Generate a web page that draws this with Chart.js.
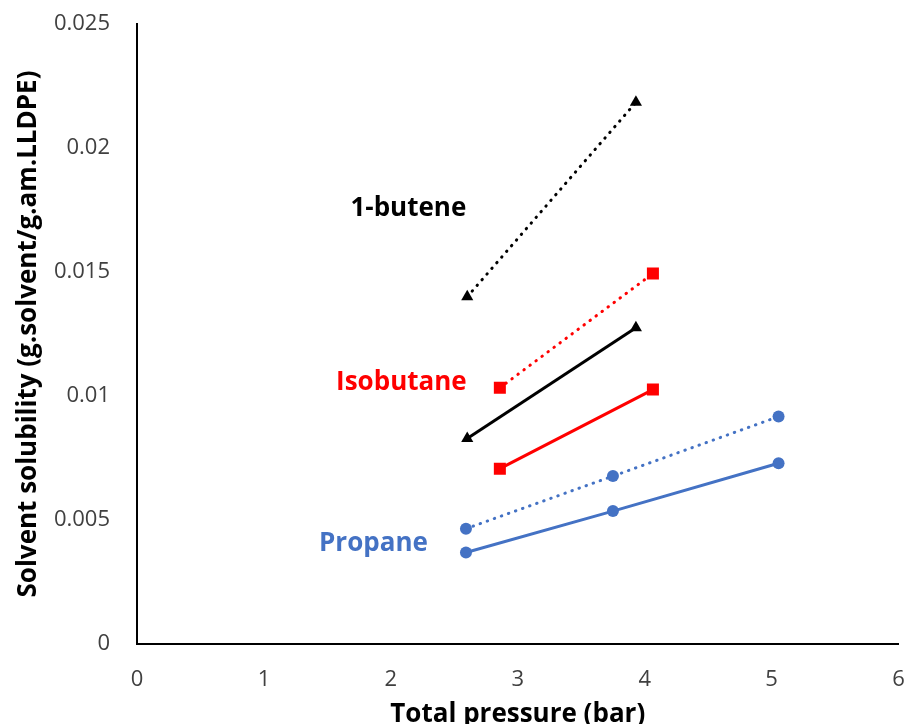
<!DOCTYPE html>
<html>
<head>
<meta charset="utf-8">
<script src="https://cdn.jsdelivr.net/npm/chart.js@4/dist/chart.umd.min.js"></script>
<style>
  html, body { margin: 0; padding: 0; background: #fff; }
  #wrap { width: 907px; height: 724px; }
</style>
</head>
<body>
<div id="wrap"><canvas id="c"></canvas></div>
<script>
// values
const propaneX = [2.592, 3.75, 5.055];
const propaneSolid = [0.00369, 0.00536, 0.00729];
const propaneDotted = [0.00465, 0.00677, 0.00917];

const isobutaneX = [2.859, 4.065];
const isobutaneSolid = [0.00707, 0.01026];
const isobutaneDotted = [0.01033, 0.01494];

const buteneX = [2.602, 3.931];
const buteneSolid = [0.00829, 0.01275];
const buteneDotted = [0.0140, 0.02184];

// text labels placed in data units
const labelNames = ['1-butene', 'Isobutane', 'Propane'];
const labelX = [2.138, 2.083, 1.863];
const labelY = [0.01754, 0.01054, 0.00406];
const labelColors = ['#000000', '#ff0000', '#4472c4'];

const pts = (xs, ys) => xs.map((x, i) => ({ x: x, y: ys[i] }));

function series(name, xs, ys, color, marker, dotted) {
  let r = 6;
  if (marker === 'rect') r = 8.5;
  if (marker === 'triangle') r = 7;
  return {
    label: name,
    data: pts(xs, ys),
    borderColor: color,
    backgroundColor: color,
    borderWidth: 3,
    borderDash: dotted ? [0.5, 7] : [],
    borderCapStyle: dotted ? 'round' : 'butt',
    pointStyle: marker,
    pointRadius: r,
    pointBorderWidth: 0,
    showLine: true,
    tension: 0
  };
}

const labelPlugin = {
  id: 'labels',
  afterDatasetsDraw(chart) {
    const ctx = chart.ctx;
    const xs = chart.scales.x, ys = chart.scales.y;
    ctx.save();
    ctx.font = 'bold 26px "Open Sans", sans-serif';
    ctx.textAlign = 'center';
    ctx.textBaseline = 'middle';
    labelNames.forEach((t, i) => {
      ctx.fillStyle = labelColors[i];
      ctx.fillText(t, xs.getPixelForValue(labelX[i]), ys.getPixelForValue(labelY[i]));
    });
    ctx.restore();
  }
};

Chart.defaults.font.family = '"Open Sans", sans-serif';

new Chart(document.getElementById('c'), {
  type: 'scatter',
  data: {
    datasets: [
      series('1-butene dotted', buteneX, buteneDotted, '#000000', 'triangle', true),
      series('1-butene', buteneX, buteneSolid, '#000000', 'triangle', false),
      series('Isobutane dotted', isobutaneX, isobutaneDotted, '#ff0000', 'rect', true),
      series('Isobutane', isobutaneX, isobutaneSolid, '#ff0000', 'rect', false),
      series('Propane dotted', propaneX, propaneDotted, '#4472c4', 'circle', true),
      series('Propane', propaneX, propaneSolid, '#4472c4', 'circle', false)
    ]
  },
  options: {
    responsive: true,
    maintainAspectRatio: false,
    animation: false,
    layout: { padding: { top: 24, right: 7, left: 0, bottom: 0 } },
    plugins: { legend: { display: false }, tooltip: { enabled: false } },
    scales: {
      x: {
        type: 'linear',
        min: 0,
        max: 6,
        grid: { display: false, drawTicks: false },
        border: { display: true, color: '#000', width: 2 },
        ticks: { stepSize: 1, color: '#404040', font: { size: 22, lineHeight: 1 }, padding: 25 },
        title: { display: true, text: 'Total pressure (bar)', color: '#000',
                 font: { size: 26, weight: 'bold', lineHeight: 0.7 }, padding: 0 },
        afterFit(s) { s.height = 80; s.paddingLeft = 0; s.paddingRight = 0; }
      },
      y: {
        min: 0,
        max: 0.025,
        grid: { display: false, drawTicks: false },
        border: { display: true, color: '#000', width: 2 },
        ticks: { stepSize: 0.005, color: '#404040', font: { size: 22, lineHeight: 1 }, padding: 27,
                 callback: v => String(Number(v.toFixed(3))) },
        title: { display: true, text: 'Solvent solubility (g.solvent/g.am.LLDPE)', color: '#000',
                 font: { size: 26, weight: 'bold', lineHeight: 1 }, padding: { top: 16, bottom: 10 } },
        afterFit(s) { s.width = 137; s.paddingTop = 0; s.paddingBottom = 0; }
      }
    }
  },
  plugins: [labelPlugin]
});
</script>
</body>
</html>
